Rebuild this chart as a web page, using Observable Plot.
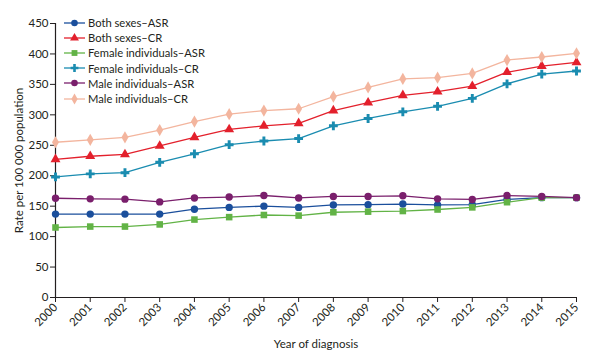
<!DOCTYPE html>
<html>
<head>
<meta charset="utf-8">
<script src="https://cdn.jsdelivr.net/npm/d3@7"></script>
<script src="https://cdn.jsdelivr.net/npm/@observablehq/plot@0.6"></script>
<style>
  body { margin: 0; background: #fff; }
  #wrap { position: relative; width: 600px; height: 357px; font-family: Lato, "Open Sans", sans-serif; color: #231f20; }
  #legend { position: absolute; left: 62px; top: 15px; font-size: 11.2px; line-height: 15.2px; }
  #legend .row { display: flex; align-items: center; height: 15.2px; }
  #legend svg { margin-right: 2px; }
</style>
</head>
<body>
<div id="wrap"><div id="legend"></div></div>
<script>
const years = [2000,2001,2002,2003,2004,2005,2006,2007,2008,2009,2010,2011,2012,2013,2014,2015];
const seriesNames = ["Both sexes–ASR","Both sexes–CR","Female individuals–ASR","Female individuals–CR","Male individuals–ASR","Male individuals–CR"];
const bothASR   = [137,137,137,137,145,148,150,148,152,152.5,153.5,152,152.5,161,164,164];
const bothCR    = [227,232,235,249,263,276,282,286,307,320,332,338,347,370,380,386];
const femaleASR = [115,116.5,116.5,120,128,132,135.5,134.5,140,141,142,144.5,148,156.5,164,164];
const femaleCR  = [198,203,205,222,236,251,257,261,282,294,305,314,327,351,367,372];
const maleASR   = [163,162,161.5,157,163.5,165,167.5,163.5,166,166,167,162,161,167.5,166,164];
const maleCR    = [255,259,263,275,289,301,307,310,330,345,359,361,368,390,395,401];
const seriesValues = [bothASR, bothCR, femaleASR, femaleCR, maleASR, maleCR];
const colors  = ["#1b4f9c","#e3202c","#62b346","#1a8cb0","#7a1f6c","#f3b59e"];
const symbols = ["circle","triangle","square","cross","circle","diamond"];
const yTicks = [0,50,100,150,200,250,300,350,400,450];

const data = [];
seriesNames.forEach((s, i) => years.forEach((y, j) => data.push({series: s, year: y, value: seriesValues[i][j]})));

const chart = Plot.plot({
  width: 600,
  height: 357,
  marginLeft: 55,
  marginRight: 24,
  marginTop: 23,
  marginBottom: 60,
  style: {fontFamily: "Lato, 'Open Sans', sans-serif", fontSize: "11.5px", color: "#231f20", background: "transparent"},
  x: {domain: [2000, 2015]},
  y: {domain: [0, 450]},
  color: {domain: seriesNames, range: colors},
  symbol: {domain: seriesNames, range: symbols},
  marks: [
    Plot.axisY({ticks: yTicks, tickSize: 5, tickPadding: 2, label: "Rate per 100 000 population", labelAnchor: "center", labelArrow: false, labelOffset: 41, stroke: "#231f20"}),
    Plot.axisX({ticks: years, tickFormat: d => String(d), tickSize: 5, tickPadding: 3, tickRotate: -45, label: "Year of diagnosis", labelAnchor: "center", labelArrow: false, labelOffset: 50, stroke: "#231f20"}),
    Plot.ruleX([2000], {stroke: "#231f20", strokeWidth: 1.2}),
    Plot.ruleY([0], {stroke: "#231f20", strokeWidth: 1.2}),
    Plot.line(data, {x: "year", y: "value", z: "series", stroke: "series", strokeWidth: 1.3}),
    Plot.dot(data, {x: "year", y: "value", symbol: "series", fill: "series", stroke: "none", r: 3.7})
  ]
});
document.getElementById("wrap").prepend(chart);

const legend = d3.select("#legend");
seriesNames.forEach((s, i) => {
  const row = legend.append("div").attr("class", "row");
  const sv = row.append("svg").attr("width", 24).attr("height", 12);
  sv.append("line").attr("x1", 2).attr("x2", 23).attr("y1", 6).attr("y2", 6).attr("stroke", colors[i]).attr("stroke-width", 1.3);
  const sym = {circle: d3.symbolCircle, triangle: d3.symbolTriangle, square: d3.symbolSquare, cross: d3.symbolCross, diamond: d3.symbolDiamond}[symbols[i]];
  sv.append("path").attr("d", d3.symbol(sym, 34)()).attr("transform", "translate(12.5,6)").attr("fill", colors[i]);
  row.append("span").text(s);
});
</script>
</body>
</html>
